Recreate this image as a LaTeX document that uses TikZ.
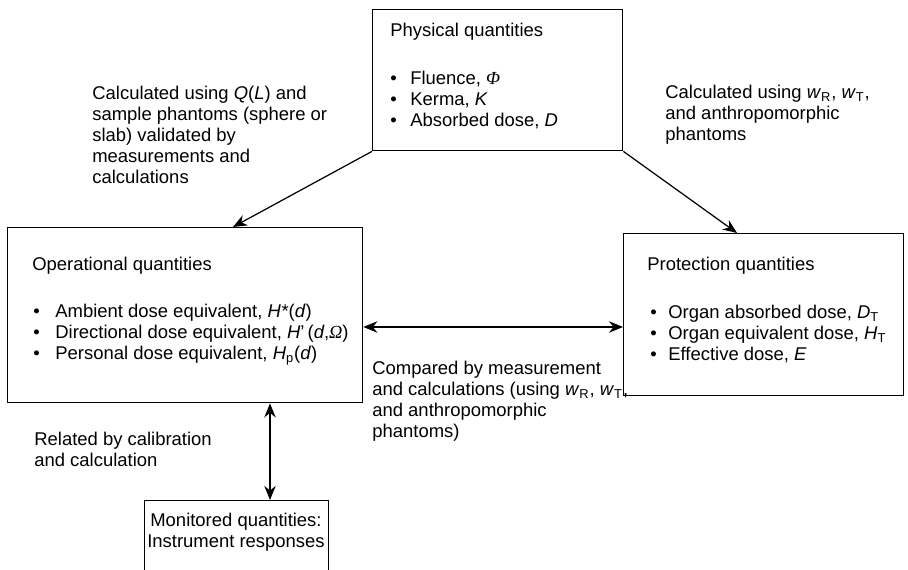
\documentclass[tikz,border=0pt]{standalone}
\usepackage{fontspec}
\setmainfont{Liberation Sans}
\newfontfamily\grkserif{Liberation Serif}
\usetikzlibrary{arrows.meta}
\tikzstyle{qbox}=[draw, rectangle, line width=0.8pt, inner sep=0pt, anchor=north west]
\tikzstyle{qtext}=[anchor=west, align=left, inner sep=0pt, font=\fontsize{10.5}{12}\selectfont]
\tikzstyle{link}=[line width=0.7pt, -{Stealth[length=8pt, width=6.5pt]}]
\tikzstyle{twolink}=[line width=0.7pt, {Stealth[length=8pt, width=6.5pt]}-{Stealth[length=8pt, width=6.5pt]}]
\newcommand{\bul}[1]{\makebox[#1][l]{\textbullet}}

\begin{document}
\begin{tikzpicture}[x=0.02cm, y=-0.02cm]
\useasboundingbox (0, 0) rectangle (908, 570);
\clip (0, 0) rectangle (908, 570);

\node[qbox, minimum width=5cm, minimum height=2.82cm] at (372, 9) (phys) {};
\node[qbox, minimum width=7.1cm, minimum height=3.5cm] at (7, 227) (oper) {};
\node[qbox, minimum width=5.6cm, minimum height=3.24cm] at (623, 233) (prot) {};
\node[qbox, minimum width=3.68cm, minimum height=1.8cm] at (144, 500) (mon) {};

\node[qtext] at (390, 32) (phystitle) {Physical quantities};
\node[qtext] at (390, 100) (physlist) {\bul{0.4cm}Fluence, \textit{\grkserif Φ}\\
  \bul{0.4cm}Kerma, \textit{K}\\
  \bul{0.4cm}Absorbed dose, \textit{D}};

\node[qtext] at (32, 266) (opertitle) {Operational quantities};
\node[qtext] at (33, 335) (operlist) {\bul{0.44cm}Ambient dose equivalent, \textit{H*}(\textit{d})\\
  \bul{0.44cm}Directional dose equivalent, \textit{H}’\,(\textit{d},\textit{\grkserif Ω})\\
  \bul{0.44cm}Personal dose equivalent, \textit{H}\textsubscript{p}(\textit{d})};

\node[qtext] at (647, 266) (prottitle) {Protection quantities};
\node[qtext] at (650, 334) (protlist) {\bul{0.36cm}Organ absorbed dose, \textit{D}\textsubscript{T}\\
  \bul{0.36cm}Organ equivalent dose, \textit{H}\textsubscript{T}\\
  \bul{0.36cm}Effective dose, \textit{E}};

\node[qtext, align=center, anchor=center] at (236, 532) (montext) {Monitored quantities:\\ Instrument responses};

\node[qtext] at (92, 135) (leftnote) {Calculated using \textit{Q}(\textit{L}) and\\
  sample phantoms (sphere or\\ slab) validated by\\ measurements and\\ calculations};
\node[qtext] at (665, 115) (rightnote) {Calculated using \textit{w}\textsubscript{R}, \textit{w}\textsubscript{T},\\
  and anthropomorphic\\ phantoms};
\node[qtext] at (372, 401) (midnote) {Compared by measurement\\
  and calculations (using \textit{w}\textsubscript{R}, \textit{w}\textsubscript{T},\\
  and anthropomorphic\\ phantoms)};
\node[qtext] at (34, 449) (lownote) {Related by calibration\\ and calculation};

\coordinate (opx) at (233, 0);
\coordinate (prx) at (737, 0);
\coordinate (hy) at (0, 327);
\coordinate (vx) at (270, 0);
\draw[link] (phys.south west) -- (oper.north -| opx);
\draw[link] (phys.south east) -- (prot.north -| prx);
\draw[twolink] (oper.east |- hy) -- (prot.west |- hy);
\draw[twolink] (oper.south -| vx) -- (mon.north -| vx);
\end{tikzpicture}
\end{document}
